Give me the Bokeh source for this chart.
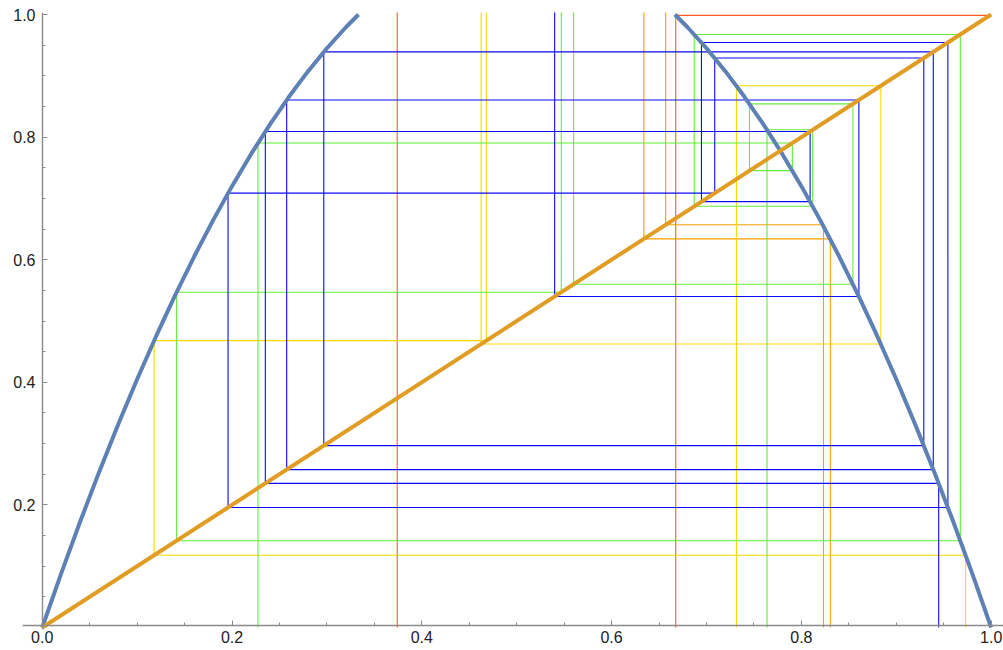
from bokeh.plotting import figure
from bokeh.models import FixedTicker, PrintfTickFormatter, Range1d, LinearAxis
from bokeh.embed import file_html
from bokeh.resources import INLINE

# ---- data ----
curve_x_left = [0.0, 0.02, 0.04, 0.06, 0.08, 0.10, 0.12, 0.14, 0.16, 0.18,
                0.20, 0.22, 0.24, 0.26, 0.28, 0.30, 0.32, 0.3333]
curve_y_left = [0.0, 0.0882, 0.1728, 0.2538, 0.3312, 0.405, 0.4752, 0.5418, 0.6048, 0.6642,
                0.72, 0.7722, 0.8208, 0.8658, 0.9072, 0.945, 0.9792, 1.0]
curve_x_right = [0.6667, 0.68, 0.70, 0.72, 0.74, 0.76, 0.78, 0.80, 0.82, 0.84,
                 0.86, 0.88, 0.90, 0.92, 0.94, 0.96, 0.98, 1.0]
curve_y_right = [1.0, 0.9792, 0.945, 0.9072, 0.8658, 0.8208, 0.7722, 0.72, 0.6642, 0.6048,
                 0.5418, 0.4752, 0.405, 0.3312, 0.2538, 0.1728, 0.0882, 0.0]
diag_x = [0.0, 1.0]
diag_y = [0.0, 1.0]

# iterates of each cobweb orbit (last value = escape above 1)
orbit_red_a = [0.3741, 1.054]
orbit_red_b = [0.6676, 0.9986]
orbit_orange_a = [0.8233, 0.657, 1.014]
orbit_orange_b = [0.8305, 0.634, 1.044]
orbit_yellow_a = [0.9731, 0.1179, 0.468, 1.12]
orbit_yellow_b = [0.7316, 0.8837, 0.4625, 1.119]
orbit_green_a = [0.2274, 0.7905, 0.7453, 0.8543, 0.560, 1.109]
orbit_green_b = [0.7638, 0.8119, 0.6871, 0.9675, 0.1416, 0.547, 1.115]
orbit_blue = [0.9447, 0.2351, 0.8092, 0.6947, 0.9544, 0.1958, 0.7087, 0.9290,
              0.2967, 0.9390, 0.2576, 0.8606, 0.540, 1.118]

x_ticks = [0.0, 0.2, 0.4, 0.6, 0.8, 1.0]
y_ticks = [0.2, 0.4, 0.6, 0.8, 1.0]
minor_ticks = [0.05, 0.1, 0.15, 0.25, 0.3, 0.35, 0.45, 0.5, 0.55,
               0.65, 0.7, 0.75, 0.85, 0.9, 0.95]

orbits = [
    (orbit_red_a, "#FF5A28"),
    (orbit_red_b, "#FF5A28"),
    (orbit_orange_a, "#FF9E00"),
    (orbit_orange_b, "#FF9E00"),
    (orbit_yellow_a, "#FFD800"),
    (orbit_yellow_b, "#FFD800"),
    (orbit_green_a, "#60EE38"),
    (orbit_green_b, "#60EE38"),
    (orbit_blue, "#0A0AFF"),
]


def cobweb(orbit):
    xs = [orbit[0]]
    ys = [0.0]
    for a, b in zip(orbit[:-1], orbit[1:]):
        xs += [a, b]
        ys += [b, b]
    return xs, ys


p = figure(width=1003, height=650,
           x_range=Range1d(-0.0208, 1.0130), y_range=Range1d(-0.0033, 1.0033),
           output_backend="svg", toolbar_location=None,
           min_border_left=22, min_border_right=0, min_border_top=12, min_border_bottom=21)

p.grid.visible = False
p.outline_line_color = None
p.background_fill_color = "white"
p.border_fill_color = "white"

for orb, col in orbits:
    xs, ys = cobweb(orb)
    p.line(xs, ys, line_color=col, line_width=1.1)

p.line(curve_x_left, curve_y_left, line_color="#5E81B5", line_width=4)
p.line(curve_x_right, curve_y_right, line_color="#5E81B5", line_width=4)
p.line(diag_x, diag_y, line_color="#E19C24", line_width=4)

# label-only axes in the side panels
for ax, ticks, standoff in ((p.xaxis[0], x_ticks, 1), (p.yaxis[0], y_ticks, -13)):
    ax.ticker = FixedTicker(ticks=ticks, minor_ticks=[])
    ax.formatter = PrintfTickFormatter(format="%.1f")
    ax.axis_line_color = None
    ax.major_tick_line_color = None
    ax.minor_tick_line_color = None
    ax.major_tick_in = 0
    ax.major_tick_out = 0
    ax.minor_tick_in = 0
    ax.minor_tick_out = 0
    ax.major_label_text_font = "Liberation Sans"
    ax.major_label_text_font_size = "16px"
    ax.major_label_text_color = "#222222"
    ax.major_label_standoff = standoff

# axis lines and ticks crossing at the origin
for ticks, loc, side in ((x_ticks, 0.004, "below"), (y_ticks, 0.0, "left")):
    ax = LinearAxis(fixed_location=loc,
                    ticker=FixedTicker(ticks=ticks, minor_ticks=minor_ticks))
    ax.axis_line_color = "#8a8a8a"
    ax.axis_line_width = 1.4
    ax.major_tick_line_color = "#8a8a8a"
    ax.minor_tick_line_color = "#8a8a8a"
    ax.major_tick_in = 5
    ax.major_tick_out = 0
    ax.minor_tick_in = 3
    ax.minor_tick_out = 0
    ax.major_label_text_color = None
    p.add_layout(ax, side)

open("out.html", "w").write(file_html(p, INLINE))
